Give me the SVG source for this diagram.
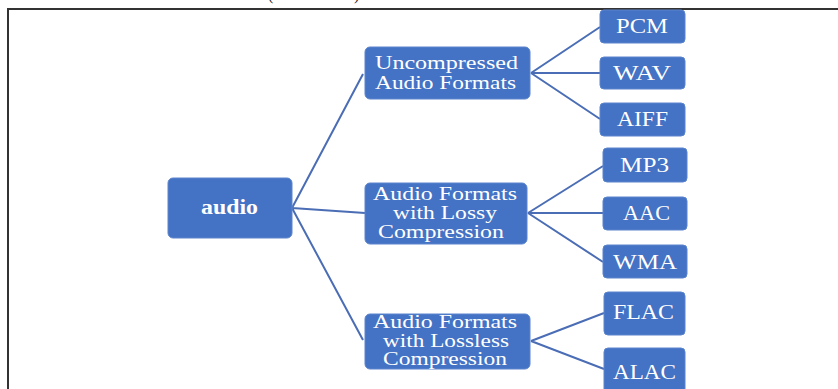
<svg xmlns="http://www.w3.org/2000/svg" width="838" height="389" viewBox="0 0 838 389">
<style>
.box{fill:#4472C4;stroke:#5A84CC;stroke-width:1}
.t{font-family:"Liberation Serif","Times New Roman",serif;font-size:19px;fill:#fff}
.l{font-size:20px}
.b{font-weight:bold}
.c{stroke:#4A6DB5;stroke-width:2;fill:none}
.f{font-family:"Liberation Serif",serif;font-size:16px;fill:#222}
</style>
<rect width="838" height="389" fill="#fff"/>
<text class="f" x="268" y="0">(</text>
<text class="f" x="354" y="0">)</text>
<path d="M8,389 V9 H838" fill="none" stroke="#333" stroke-width="2"/>
<g id="connectors">
<path class="c" d="M292,208 L363,74 M292,208 L365,213 M292,208 L363,340"/>
<path class="c" d="M531,73 L600,27 M531,73 L600,73 M531,73 L600,119"/>
<path class="c" d="M528,213 L603,166 M528,213 L603,213 M528,213 L603,262"/>
<path class="c" d="M531,341 L604,313 M531,341 L604,369"/>
</g>
<g id="audio"><rect class="box" x="168" y="178" width="124" height="60" rx="5"/><text class="t b l" x="201" y="214" textLength="57" lengthAdjust="spacingAndGlyphs">audio</text></g>
<g id="uncompressed"><rect class="box" x="365" y="47" width="165" height="52" rx="5"/>
<text class="t" x="375" y="69" textLength="143" lengthAdjust="spacingAndGlyphs">Uncompressed</text>
<text class="t" x="375" y="89" textLength="141" lengthAdjust="spacingAndGlyphs">Audio Formats</text></g>
<g id="lossy"><rect class="box" x="365" y="183" width="162" height="61" rx="5"/>
<text class="t" x="373" y="200" textLength="144" lengthAdjust="spacingAndGlyphs">Audio Formats</text>
<text class="t" x="393" y="219" textLength="104" lengthAdjust="spacingAndGlyphs">with Lossy</text>
<text class="t" x="378" y="238" textLength="126" lengthAdjust="spacingAndGlyphs">Compression</text></g>
<g id="lossless"><rect class="box" x="365" y="314" width="165" height="55" rx="5"/>
<text class="t" x="373" y="328" textLength="144" lengthAdjust="spacingAndGlyphs">Audio Formats</text>
<text class="t" x="383" y="347" textLength="126" lengthAdjust="spacingAndGlyphs">with Lossless</text>
<text class="t" x="383" y="365" textLength="124" lengthAdjust="spacingAndGlyphs">Compression</text></g>
<g id="pcm"><rect class="box" x="600" y="10" width="85" height="33" rx="4"/><text class="t l" x="616" y="33" textLength="52" lengthAdjust="spacingAndGlyphs">PCM</text></g>
<g id="wav"><rect class="box" x="600" y="57" width="85" height="32" rx="4"/><text class="t l" x="613" y="80" textLength="58" lengthAdjust="spacingAndGlyphs">WAV</text></g>
<g id="aiff"><rect class="box" x="600" y="103" width="85" height="33" rx="4"/><text class="t l" x="617" y="126" textLength="51" lengthAdjust="spacingAndGlyphs">AIFF</text></g>
<g id="mp3"><rect class="box" x="603" y="148" width="84" height="34" rx="4"/><text class="t l" x="620" y="172" textLength="49" lengthAdjust="spacingAndGlyphs">MP3</text></g>
<g id="aac"><rect class="box" x="603" y="197" width="84" height="33" rx="4"/><text class="t l" x="623" y="220" textLength="47" lengthAdjust="spacingAndGlyphs">AAC</text></g>
<g id="wma"><rect class="box" x="603" y="245" width="84" height="33" rx="4"/><text class="t l" x="613" y="269" textLength="64" lengthAdjust="spacingAndGlyphs">WMA</text></g>
<g id="flac"><rect class="box" x="604" y="292" width="81" height="43" rx="4"/><text class="t l" x="613" y="319" textLength="61" lengthAdjust="spacingAndGlyphs">FLAC</text></g>
<g id="alac"><rect class="box" x="604" y="348" width="81" height="50" rx="4"/><text class="t l" x="613" y="379" textLength="63" lengthAdjust="spacingAndGlyphs">ALAC</text></g>
</svg>
